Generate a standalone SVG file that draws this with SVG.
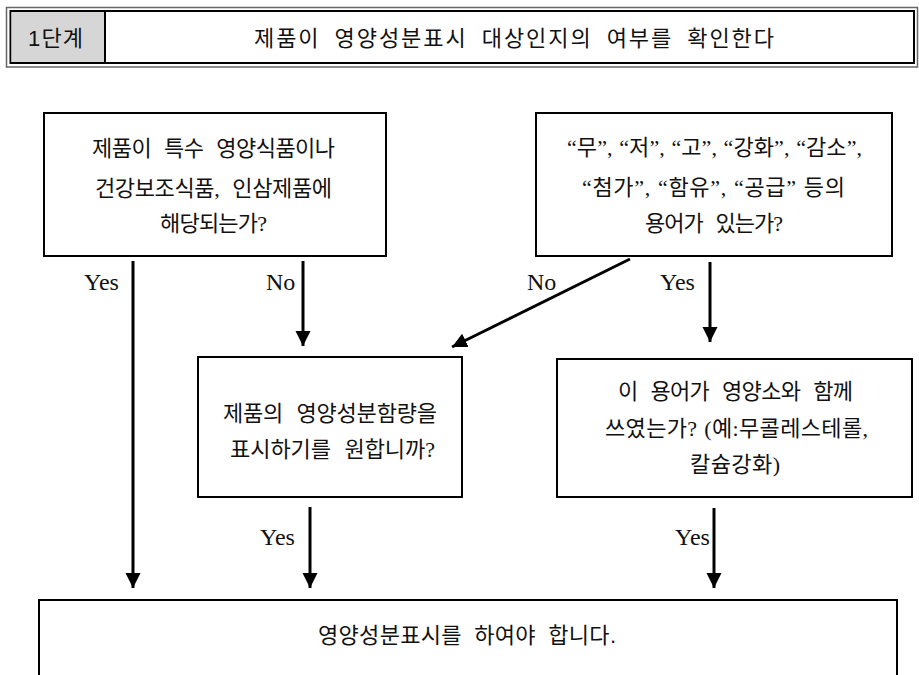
<svg xmlns="http://www.w3.org/2000/svg" width="919" height="675" viewBox="0 0 919 675">
  <style>
    .box { fill: #fff; stroke: #000; stroke-width: 2; }
    .q { font-family: "Liberation Serif", "Noto Sans CJK KR", serif; font-size: 22px; word-spacing: 8px; fill: #111; text-anchor: middle; }
    .tight { word-spacing: 1px; }
    .hd { font-family: "Liberation Sans", "Noto Sans CJK KR", sans-serif; font-size: 22px; word-spacing: 6px; fill: #111; text-anchor: middle; }
    .lbl { font-family: "Liberation Serif", serif; font-size: 24px; fill: #111; }
    .edge { stroke: #000; stroke-width: 3; fill: none; marker-end: url(#arrow); }
  </style>
  <defs>
    <marker id="arrow" markerUnits="userSpaceOnUse" markerWidth="16" markerHeight="16" refX="15" refY="7.5" orient="auto">
      <path d="M0,0 L15,7.5 L0,15 z" fill="#000"/>
    </marker>
  </defs>

  <rect width="919" height="675" fill="#fff"/>

  <!-- step header with double border -->
  <g id="header">
    <rect x="6.5" y="7.5" width="911" height="59.5" fill="#fff" stroke="#666" stroke-width="1.5"/>
    <rect x="10.5" y="11" width="903.5" height="52" fill="#fff" stroke="#000" stroke-width="2"/>
    <rect x="11.5" y="12" width="93" height="50" fill="#d6d6d6"/>
    <line x1="105" y1="11" x2="105" y2="63" stroke="#000" stroke-width="2"/>
    <text class="hd" x="55.5" y="46" textLength="55">1단계</text>
    <text class="hd" x="514" y="46" textLength="520">제품이 영양성분표시 대상인지의 여부를 확인한다</text>
  </g>

  <!-- question: special nutrition / health supplement / ginseng -->
  <g id="q-special">
    <rect class="box" x="44" y="113" width="342" height="143"/>
    <text class="q" x="213.5" y="156" textLength="243">제품이 특수 영양식품이나</text>
    <text class="q" x="213.5" y="196" textLength="237">건강보조식품, 인삼제품에</text>
    <text class="q" x="213.5" y="231" textLength="107">해당되는가?</text>
  </g>

  <!-- question: claim terms -->
  <g id="q-terms">
    <rect class="box" x="536" y="113" width="356" height="143"/>
    <text class="q tight" x="714.5" y="155" textLength="295">“무”, “저”, “고”, “강화”, “감소”,</text>
    <text class="q tight" x="713.5" y="195" textLength="263">“첨가”, “함유”, “공급” 등의</text>
    <text class="q" x="714" y="231" textLength="138">용어가 있는가?</text>
  </g>

  <!-- question: wish to display content -->
  <g id="q-wish">
    <rect class="box" x="198" y="357" width="264" height="140"/>
    <text class="q" x="330" y="421" textLength="214">제품의 영양성분함량을</text>
    <text class="q" x="332.5" y="457" textLength="205">표시하기를 원합니까?</text>
  </g>

  <!-- question: term used with nutrient -->
  <g id="q-nutrient">
    <rect class="box" x="557" y="359" width="355" height="138"/>
    <text class="q" x="735.5" y="399" textLength="235">이 용어가 영양소와 함께</text>
    <text class="q tight" x="736.5" y="436" textLength="263">쓰였는가? (예:무콜레스테롤,</text>
    <text class="q" x="735" y="472" textLength="90">칼슘강화)</text>
  </g>

  <!-- result -->
  <g id="result">
    <path d="M39,676 V600 H897 V676" fill="#fff" stroke="#000" stroke-width="2"/>
    <text class="hd" x="467" y="643" textLength="298">영양성분표시를 하여야 합니다.</text>
  </g>

  <!-- connectors -->
  <g id="connectors">
    <line class="edge" x1="133" y1="261" x2="133" y2="588"/>
    <line class="edge" x1="303" y1="261" x2="303" y2="346"/>
    <line class="edge" x1="630" y1="259" x2="452" y2="347"/>
    <line class="edge" x1="710" y1="262" x2="710" y2="342"/>
    <line class="edge" x1="310" y1="507" x2="310" y2="588"/>
    <line class="edge" x1="714" y1="508" x2="714" y2="588"/>
    <text class="lbl" x="84" y="290">Yes</text>
    <text class="lbl" x="266" y="290">No</text>
    <text class="lbl" x="527" y="290">No</text>
    <text class="lbl" x="660" y="290">Yes</text>
    <text class="lbl" x="260" y="545">Yes</text>
    <text class="lbl" x="675" y="545">Yes</text>
  </g>
</svg>
